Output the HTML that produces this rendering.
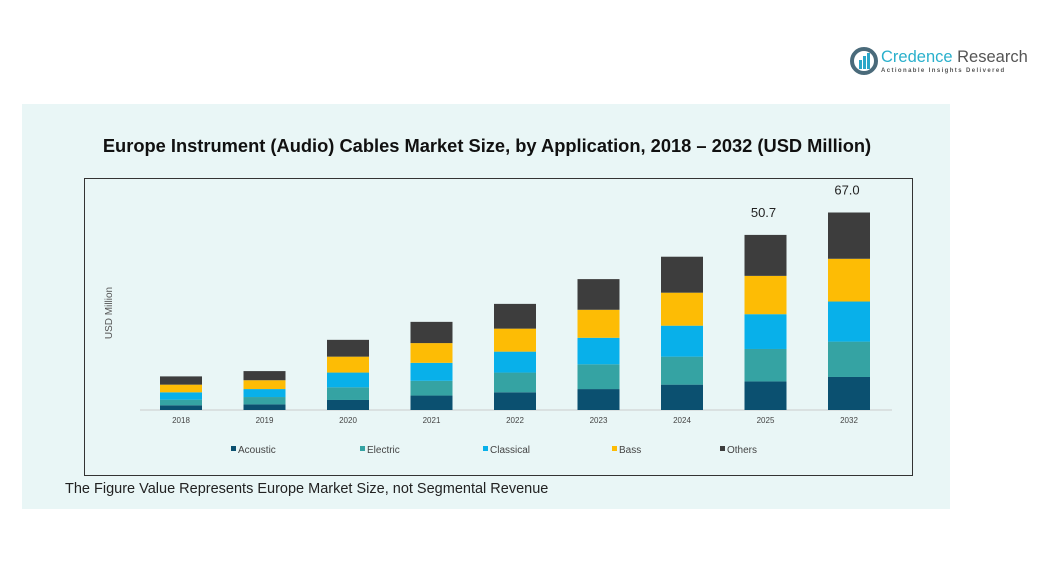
<!DOCTYPE html>
<html><head><meta charset="utf-8"><style>
body{margin:0;width:1042px;height:577px;background:#fff;font-family:"Liberation Sans",sans-serif;position:relative;overflow:hidden}
.abs{position:absolute}
</style></head><body>
<div class="abs" style="left:850px;top:46px;width:190px;height:32px">
 <svg width="30" height="30" class="abs" style="left:0;top:0"><circle cx="14" cy="15" r="12" fill="none" stroke="#4a6a7a" stroke-width="4"/><rect x="9" y="14" width="3" height="9" fill="#2aa6c8"/><rect x="13" y="10" width="3" height="13" fill="#2aa6c8"/><rect x="17" y="7" width="3" height="16" fill="#2aa6c8"/></svg>
 <div class="abs" style="left:31px;top:2px;font-size:16.5px;color:#2ab0cc;white-space:nowrap">Credence <span style="color:#555">Research</span></div>
 <div class="abs" style="left:31px;top:22px;font-size:6px;letter-spacing:1.4px;color:#555;white-space:nowrap;font-weight:bold">Actionable Insights Delivered</div>
</div>
<div class="abs" style="left:22px;top:104px;width:928px;height:405px;background:#e9f6f6"></div>
<div class="abs" style="left:0px;top:135px;width:974px;text-align:center;font-size:18.3px;font-weight:bold;color:#111;white-space:nowrap">Europe Instrument (Audio) Cables Market Size, by Application, 2018 – 2032 (USD Million)</div>
<div class="abs" style="left:65px;top:481px;font-size:14.5px;color:#222">The Figure Value Represents Europe Market Size, not Segmental Revenue</div>
<svg class="abs" style="left:0;top:0" width="1042" height="577" id="chart">
<rect x="84.5" y="178.5" width="828" height="297" fill="none" stroke="#333" stroke-width="1"/>
<text x="112" y="313" transform="rotate(-90 112 313)" text-anchor="middle" font-size="10" fill="#555">USD Million</text>
<line x1="140" y1="410" x2="892" y2="410" stroke="#ccc"/>
</svg>
<script>
const categories=["2018","2019","2020","2021","2022","2023","2024","2025","2032"];
const seriesNames=["Acoustic","Electric","Classical","Bass","Others"];
const acoustic=[1.6,1.9,3.4,4.9,6.0,7.1,8.6,9.7,11.2];
const electric=[1.9,2.5,4.3,5.0,6.7,8.4,9.5,11.0,12.0];
const classical=[2.5,2.7,5.0,6.1,7.1,9.0,10.5,11.8,13.6];
const bass=[2.6,3.0,5.4,6.7,7.8,9.5,11.2,13.0,14.5];
const others=[2.8,3.1,5.7,7.2,8.4,10.4,12.2,13.9,15.7];
const totalLabels=["","","","","","","","50.7","67.0"];
const colors=["#0b5070","#35a3a3","#08b0ea","#fdbc05","#3d3d3d"];
const svg=document.getElementById('chart');
const NS='http://www.w3.org/2000/svg';
const series=[acoustic,electric,classical,bass,others];
const x0=181,step=83.5,bw=42,baseY=410,pxPer=197.5/67;
function xPos(i){return x0+i*step;}
function yH(v){return v*pxPer;}
categories.forEach((c,i)=>{
 let y=baseY;
 series.forEach((s,k)=>{
  const h=yH(s[i]);y-=h;
  const r=document.createElementNS(NS,'rect');
  r.setAttribute('x',xPos(i)-bw/2);r.setAttribute('y',y);r.setAttribute('width',bw);r.setAttribute('height',h);r.setAttribute('fill',colors[k]);
  
  
  svg.appendChild(r);
 });
 const t=document.createElementNS(NS,'text');
 t.setAttribute('x',xPos(i));t.setAttribute('y',423);t.setAttribute('text-anchor','middle');t.setAttribute('font-size','8');t.setAttribute('fill','#444');t.textContent=c;
 
 
 svg.appendChild(t);
 if(totalLabels[i]){
  const l=document.createElementNS(NS,'text');
  l.setAttribute('x',xPos(i)-2);l.setAttribute('y',y-18);l.setAttribute('text-anchor','middle');l.setAttribute('font-size','13');l.setAttribute('fill','#222');l.textContent=totalLabels[i];
  
  
  svg.appendChild(l);
 }
});
const legX=[231,360,483,612,720];
seriesNames.forEach((n,k)=>{
 const g=document.createElementNS(NS,'g');
 
 
 const r=document.createElementNS(NS,'rect');
 r.setAttribute('x',legX[k]);r.setAttribute('y',446);r.setAttribute('width',5);r.setAttribute('height',5);r.setAttribute('fill',colors[k]);
 const t=document.createElementNS(NS,'text');
 t.setAttribute('x',legX[k]+7);t.setAttribute('y',453);t.setAttribute('font-size','10');t.setAttribute('fill','#444');t.textContent=n;
 g.appendChild(r);g.appendChild(t);svg.appendChild(g);
});
</script>
</body></html>
